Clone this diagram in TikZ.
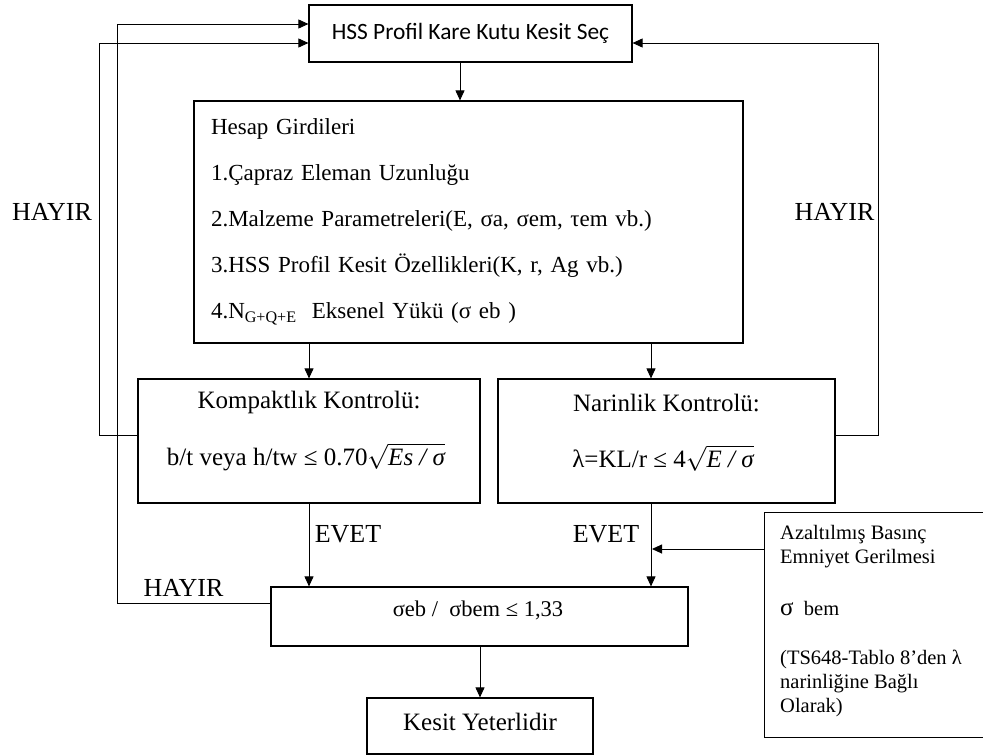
\documentclass[tikz,border=0pt]{standalone}
\usepackage{fontspec}
\setmainfont{Liberation Serif}
\newfontfamily\calib{Carlito}
\usetikzlibrary{arrows.meta}
\begin{document}
\begin{tikzpicture}[x=1pt,y=-1pt,
  box/.style={draw, line width=1.2pt, inner sep=0pt},
  arr/.style={-{Triangle[length=10pt,width=9pt]}, line width=0.9pt},
  lbl/.style={font=\fontsize{25}{29}\selectfont, inner sep=0pt},
  tag/.style={font=\fontsize{26}{30}\selectfont, inner sep=0pt}]
\clip (0,0) rectangle (983,755);
\fill[white] (0,0) rectangle (983,755);

% boxes
\node[box, minimum width=323pt, minimum height=57pt, font=\calib\fontsize{23.4}{28}\selectfont] (top) at (470.5,33.5) {HSS Profil Kare Kutu Kesit Seç};

\node[box, minimum width=549pt, minimum height=242pt, text width=515pt, align=left, font=\fontsize{23}{46}\selectfont] (hesap) at (468.5,222)
 {Hesap Girdileri\\1.Çapraz Eleman Uzunluğu\\2.Malzeme Parametreleri(E, σa, σem, τem vb.)\\3.HSS Profil Kesit Özellikleri(K, r, Ag vb.)\\4.N\textsubscript{G+Q+E}\ \ Eksenel Yükü (σ eb )};

\node[box, minimum width=342pt, minimum height=124pt] (komp) at (309,441) {};
\node[lbl] (kompa) at (309,402) {Kompaktlık Kontrolü:};
\node[lbl] (kompb) at (306,457) {b/t veya h/tw ≤ 0.70$\sqrt{\mbox{\itshape Es / σ}}$};

\node[box, minimum width=337pt, minimum height=124pt] (narin) at (666.5,441) {};
\node[lbl] (narina) at (666.5,403) {Narinlik Kontrolü:};
\node[lbl] (narinb) at (663,458) {λ=KL/r ≤ 4$\sqrt{\mbox{\itshape E / σ}}$};

\node[box, minimum width=417pt, minimum height=59pt] (sigma) at (479.5,616.5) {};
\node[inner sep=0pt, font=\fontsize{22.5}{27}\selectfont] (sigmat) at (478,610) {σeb /\ \ σbem ≤ 1,33};

\node[box, minimum width=226pt, minimum height=56pt] (kesit) at (480,726) {};
\node[lbl] (kesitt) at (480,722) {Kesit Yeterlidir};

\node[box, anchor=north west, minimum width=240pt, minimum height=225pt] (rbox) at (764,512) {};
\node[anchor=west, align=left, inner sep=0pt, font=\fontsize{20.5}{24}\selectfont] (rtext) at (780,621)
 {Azaltılmış Basınç\\Emniyet Gerilmesi\\[28pt]{\fontsize{25}{24}\selectfont σ}\ \ bem\\[25pt](TS648-Tablo 8’den λ\\narinliğine Bağlı\\Olarak)};

% labels
\node[tag] (h1) at (52,212) {HAYIR};
\node[tag] (h2) at (834.5,212) {HAYIR};
\node[tag] (h3) at (183.5,588) {HAYIR};
\node[tag] (e1) at (348,534) {EVET};
\node[tag] (e2) at (606,534) {EVET};

% connectors
\draw[arr] ([xshift=-10.5pt]top.south) -- ([xshift=-10.5pt]top.south |- hesap.north);
\draw[arr] (hesap.south -| komp.north) -- (komp.north);
\draw[arr] ([xshift=-15.5pt]narin.north |- hesap.south) -- ([xshift=-15.5pt]narin.north);
\draw[arr] (komp.south) -- (komp.south |- sigma.north);
\draw[arr] ([xshift=-15.5pt]narin.south) -- ([xshift=-15.5pt]narin.south |- sigma.north);
\draw[arr] (sigma.south -| kesit.north) -- (kesit.north);
\draw[arr] ([yshift=6pt]komp.west) -- ++(-38,0) |- ([yshift=-9.5pt]top.west);
\draw[arr] ([yshift=13.5pt]sigma.west) -- ++(-153,0) |- ([yshift=9.5pt]top.west);
\draw[arr] ([yshift=6pt]narin.east) -- ++(43,0) |- ([yshift=-9.5pt]top.east);
\coordinate (jn) at (652,549);
\draw[arr] (rbox.west |- jn) -- (jn);
\end{tikzpicture}
\end{document}
